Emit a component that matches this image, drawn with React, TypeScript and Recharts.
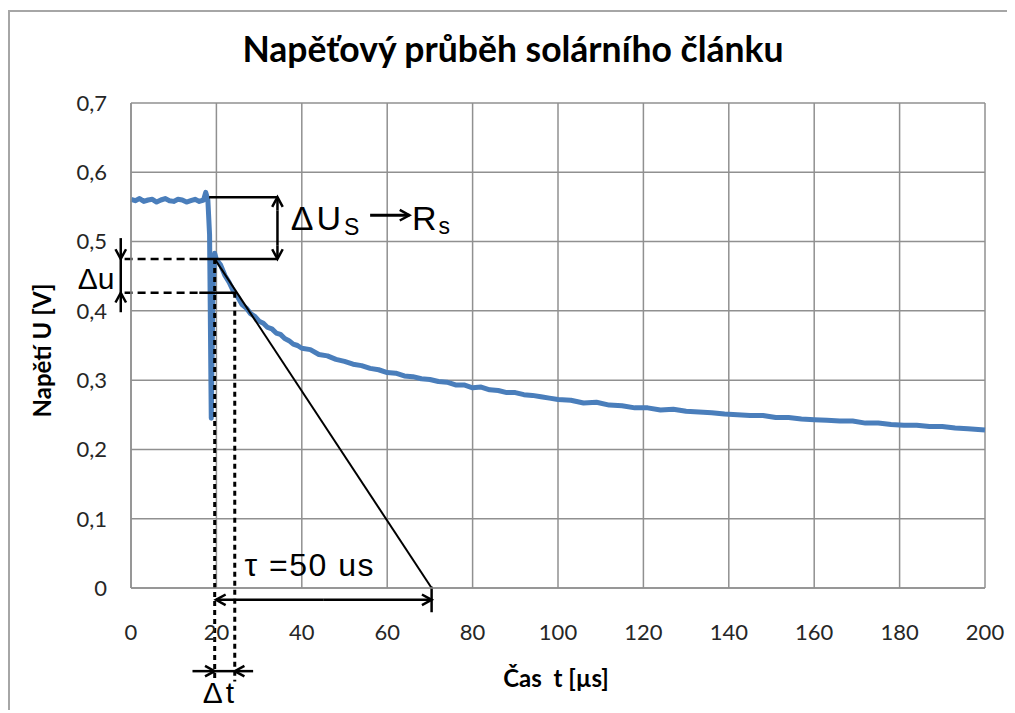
import React from 'react';
import {
  LineChart,
  Line,
  XAxis,
  YAxis,
  CartesianGrid,
  ReferenceLine,
  ReferenceDot,
} from 'recharts';

// measured transient, time in µs, voltage in V
const timeUs = [
  0, 1, 2, 3, 4, 5, 6, 7, 8, 9, 10, 11, 12, 13, 14, 15, 16, 17,
  17.5, 18, 18.4, 18.8, 19.2, 19.6, 20, 21, 22, 23, 24, 25, 26, 27, 28, 29,
  30, 31, 32, 33, 34, 35, 36, 37, 38, 39, 40, 42, 44, 46, 48, 50, 52, 54,
  56, 58, 60, 62, 64, 66, 68, 70, 72, 74, 76, 78, 80, 82, 84, 86, 88, 90,
  92, 94, 96, 98, 100, 103, 106, 109, 112, 115, 118, 121, 124, 127, 130,
  133, 136, 139, 142, 145, 148, 151, 154, 157, 160, 163, 166, 169, 172,
  175, 178, 181, 184, 187, 190, 193, 196, 200,
];
const voltage = [
  0.561, 0.559, 0.562, 0.558, 0.56, 0.561, 0.557, 0.56, 0.562, 0.559, 0.558, 0.561, 0.56, 0.557, 0.559, 0.561, 0.558, 0.56,
  0.571, 0.56, 0.51, 0.245, 0.43, 0.483, 0.474, 0.466, 0.451, 0.441, 0.428, 0.42, 0.409, 0.404, 0.396, 0.392,
  0.385, 0.382, 0.376, 0.374, 0.368, 0.366, 0.36, 0.357, 0.352, 0.35, 0.346, 0.344, 0.337, 0.335, 0.33, 0.327, 0.323, 0.321,
  0.317, 0.315, 0.311, 0.31, 0.306, 0.305, 0.302, 0.301, 0.298, 0.297, 0.293, 0.293, 0.289, 0.29, 0.286, 0.285, 0.282, 0.282,
  0.279, 0.278, 0.276, 0.274, 0.272, 0.271, 0.267, 0.268, 0.264, 0.263, 0.26, 0.26, 0.257, 0.258, 0.255,
  0.254, 0.253, 0.251, 0.25, 0.249, 0.249, 0.246, 0.246, 0.244, 0.243, 0.242, 0.241, 0.241, 0.238,
  0.238, 0.236, 0.235, 0.235, 0.233, 0.233, 0.231, 0.23, 0.228,
];
const xTicks = [0, 20, 40, 60, 80, 100, 120, 140, 160, 180, 200];
const yTicks = [0, 0.1, 0.2, 0.3, 0.4, 0.5, 0.6, 0.7];

// hand-drawn annotation lines, in data units [t, U]
type Head = 'none' | 'end';
type Seg = { from: [number, number]; to: [number, number]; dash?: string; width?: number; head?: Head };
const annotationSegments: Seg[] = [
  // ΔUs bracket
  { from: [18.3, 0.564], to: [34.3, 0.564] },
  { from: [16.0, 0.475], to: [34.3, 0.475] },
  { from: [34.3, 0.545], to: [34.3, 0.564], head: 'end' },
  { from: [34.3, 0.494], to: [34.3, 0.475], head: 'end' },
  { from: [34.3, 0.545], to: [34.3, 0.494] },
  // arrow ΔUs -> Rs
  { from: [56.0, 0.538], to: [65.2, 0.538], head: 'end', width: 3 },
  // Δu
  { from: [-1.5, 0.475], to: [16.0, 0.475], dash: '8 5' },
  { from: [-1.5, 0.426], to: [16.0, 0.426], dash: '8 5' },
  { from: [16.0, 0.426], to: [24.7, 0.426] },
  { from: [-2.4, 0.505], to: [-2.4, 0.475], head: 'end' },
  { from: [-2.4, 0.398], to: [-2.4, 0.426], head: 'end' },
  { from: [-2.4, 0.475], to: [-2.4, 0.426] },
  // Δt dotted drop lines
  { from: [19.6, 0.475], to: [19.6, -0.135], dash: '5 4', width: 3 },
  { from: [24.3, 0.426], to: [24.3, -0.135], dash: '5 4', width: 3 },
  // tangent
  { from: [19.6, 0.475], to: [70.4, 0], width: 2 },
  // τ arrow
  { from: [45, -0.017], to: [19.9, -0.017], head: 'end' },
  { from: [45, -0.017], to: [70.4, -0.017], head: 'end' },
  { from: [70.4, 0.002], to: [70.4, -0.035] },
  // Δt arrows
  { from: [14.4, -0.12], to: [19.6, -0.12], head: 'end' },
  { from: [28.6, -0.12], to: [24.3, -0.12], head: 'end' },
  { from: [19.6, -0.12], to: [24.3, -0.12] },
];

const chevron = (x: number, y: number, fx: number, fy: number) => {
  const ang = Math.atan2(y - fy, x - fx);
  const len = 11;
  const s = 0.5;
  const a1 = ang + Math.PI - s;
  const a2 = ang + Math.PI + s;
  return (
    <polyline
      points={`${x + len * Math.cos(a1)},${y + len * Math.sin(a1)} ${x},${y} ${x + len * Math.cos(a2)},${y + len * Math.sin(a2)}`}
      fill="none"
      stroke="#000"
      strokeWidth={2.5}
    />
  );
};

const segShape = (seg: Seg) => (p: any) => {
  const { x1, y1, x2, y2 } = p;
  return (
    <g>
      <line
        x1={x1}
        y1={y1}
        x2={x2}
        y2={y2}
        stroke="#000"
        strokeWidth={seg.width ?? 2.5}
        strokeDasharray={seg.dash}
      />
      {seg.head === 'end' ? chevron(x2, y2, x1, y1) : null}
    </g>
  );
};

const arial = '"Liberation Sans", Arial, sans-serif';
const calibri = 'Lato, "Open Sans", sans-serif';

const chartData = timeUs.map((t, i) => ({ t, u: voltage[i] }));

const noteText = (content: React.ReactNode, size: number, spacing = 0) => (p: any) => (
  <text
    x={p.cx}
    y={p.cy}
    fontFamily={arial}
    fontSize={size}
    letterSpacing={spacing}
    fill="#000"
  >
    {content}
  </text>
);

export default function App() {
  return (
    <div
      style={{
        position: 'relative',
        top: 2,
        width: 1004,
        height: 698,
        border: '2px solid #a6a6a6',
        background: '#fff',
      }}
    >
      <div
        style={{
          position: 'absolute',
          left: 503,
          top: 17,
          transform: 'translateX(-50%)',
          whiteSpace: 'nowrap',
          fontFamily: calibri,
          fontWeight: 700,
          fontSize: 35.5,
          lineHeight: '40px',
          color: '#000',
        }}
      >
        Napěťový průběh solárního článku
      </div>
      <LineChart
        width={1004}
        height={698}
        data={chartData}
        margin={{ top: 91, right: 29, bottom: 82, left: 61 }}
      >
        <CartesianGrid stroke="#909090" strokeWidth={1.5} />
        <XAxis
          dataKey="t"
          type="number"
          domain={[0, 200]}
          ticks={xTicks}
          height={40}
          tickLine={false}
          axisLine={{ stroke: '#909090', strokeWidth: 1.5 }}
          tickMargin={30}
          tick={{ fontFamily: calibri, fontSize: 22, fill: '#262626' }}
          label={{
            content: ({ viewBox }: any) => (
              <text
                x={viewBox.x + viewBox.width / 2 - 2}
                y={viewBox.y + 99}
                textAnchor="middle"
                fontFamily={calibri}
                fontWeight={700}
                fontSize={24}
                fill="#000"
              >
                {'Čas\u00a0\u00a0t [µs]'}
              </text>
            ),
          }}
        />
        <YAxis
          type="number"
          domain={[0, 0.7]}
          ticks={yTicks}
          width={60}
          tickLine={false}
          axisLine={{ stroke: '#909090', strokeWidth: 1.5 }}
          tickMargin={18}
          tickFormatter={(v: number) => String(v).replace('.', ',')}
          tick={{ fontFamily: calibri, fontSize: 22, fill: '#262626' }}
          label={{
            content: ({ viewBox }: any) => {
              const cx = viewBox.x - 30;
              const cy = viewBox.y + viewBox.height / 2 + 5;
              return (
                <text
                  x={cx}
                  y={cy}
                  transform={`rotate(-90 ${cx} ${cy})`}
                  textAnchor="middle"
                  dominantBaseline="central"
                  fontFamily={calibri}
                  fontWeight={700}
                  fontSize={24}
                  fill="#000"
                >
                  Napětí U [V]
                </text>
              );
            },
          }}
        />
        <Line
          dataKey="u"
          type="linear"
          stroke="#4a7ebb"
          strokeWidth={5}
          strokeLinejoin="round"
          dot={false}
          activeDot={false}
          isAnimationActive={false}
        />
        {annotationSegments.map((seg, i) => (
          <ReferenceLine
            key={i}
            segment={[
              { x: seg.from[0], y: seg.from[1] },
              { x: seg.to[0], y: seg.to[1] },
            ]}
            ifOverflow="visible"
            shape={segShape(seg)}
          />
        ))}
        <ReferenceDot
          x={37.4}
          y={0.517}
          r={0}
          ifOverflow="visible"
          shape={noteText(
            <>
              ΔU
              <tspan fontSize={23} dy={5}>S</tspan>
            </>,
            34,
            3
          )}
        />
        <ReferenceDot
          x={65.8}
          y={0.517}
          r={0}
          ifOverflow="visible"
          shape={noteText(
            <>
              R
              <tspan fontSize={23} dy={4}>s</tspan>
            </>,
            34,
            2
          )}
        />
        <ReferenceDot x={-12.5} y={0.432} r={0} ifOverflow="visible" shape={noteText('Δu', 30)} />
        <ReferenceDot
          x={26.6}
          y={0.017}
          r={0}
          ifOverflow="visible"
          shape={noteText('τ =50 us', 32, 1.5)}
        />
        <ReferenceDot x={16.8} y={-0.166} r={0} ifOverflow="visible" shape={noteText('Δt', 30, 3)} />
      </LineChart>
    </div>
  );
}
